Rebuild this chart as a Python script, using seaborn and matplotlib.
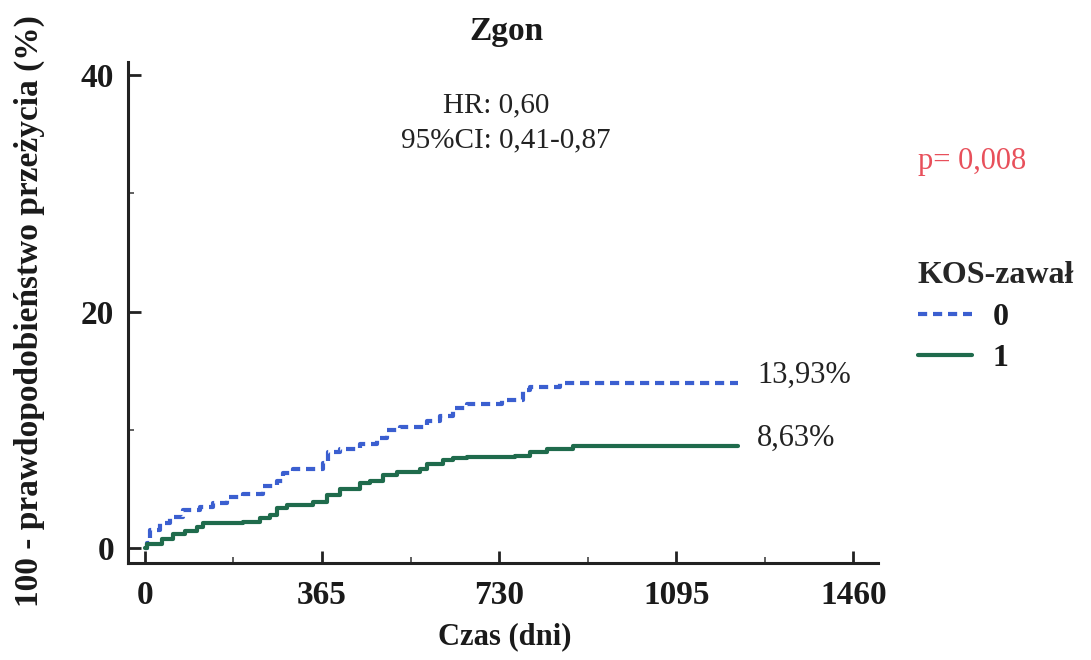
import numpy as np
import pandas as pd
import matplotlib
matplotlib.use("Agg")
import matplotlib.pyplot as plt
from matplotlib.ticker import MultipleLocator, FixedLocator
from matplotlib.lines import Line2D
import seaborn as sns

# Cumulative event curves (100 - survival %), step points per group
days_0 = [0, 5, 10, 31, 52, 78, 113, 140, 169, 202, 243, 272, 285, 305, 367, 377,
          402, 443, 478, 499, 526, 581, 608, 635, 663, 735, 779, 794, 856, 1223]
pct_0 = [0.0, 0.4, 1.5, 2.1, 2.6, 3.2, 3.5, 3.8, 4.3, 4.6, 5.2, 5.7, 6.3, 6.7, 7.2, 8.1,
         8.4, 8.8, 9.3, 10.0, 10.2, 10.7, 11.2, 11.8, 12.2, 12.5, 13.4, 13.6, 13.93, 13.93]

days_1 = [0, 4, 35, 58, 82, 107, 120, 202, 237, 258, 272, 293, 346, 375, 402, 443,
          464, 491, 520, 567, 581, 614, 635, 663, 762, 794, 829, 883, 1223]
pct_1 = [0.0, 0.3, 0.8, 1.2, 1.4, 1.8, 2.1, 2.2, 2.5, 2.8, 3.4, 3.6, 3.9, 4.5, 5.0, 5.5,
         5.7, 6.2, 6.4, 6.7, 7.1, 7.4, 7.6, 7.7, 7.8, 8.1, 8.4, 8.63, 8.63]

groups = ["0", "1"]
final_labels = ["13,93%", "8,63%"]
x_ticks = [0, 365, 730, 1095, 1460]
y_ticks = [0, 20, 40]

df = pd.concat([
    pd.DataFrame({"Czas": days_0, "pct": pct_0, "KOS-zawał": groups[0]}),
    pd.DataFrame({"Czas": days_1, "pct": pct_1, "KOS-zawał": groups[1]}),
], ignore_index=True)

sns.set_style("ticks")
plt.rcParams["font.family"] = ["Liberation Serif", "DejaVu Serif"]

colors = {"0": "#3b5fd0", "1": "#1f6b4c"}
dash_0 = (2.2, 1.4)

fig = plt.figure(figsize=(10.91, 6.6), dpi=100)
ax = fig.add_axes([0.1173, 0.147, 0.6875, 0.759])

sns.lineplot(data=df, x="Czas", y="pct", hue="KOS-zawał", style="KOS-zawał",
             palette=colors, dashes={"0": dash_0, "1": ""},
             estimator=None, sort=False, drawstyle="steps-post",
             linewidth=3.0, legend=False, ax=ax)

ax.set_xlim(-35, 1511)
ax.set_ylim(-1.27, 41.1)
ax.xaxis.set_major_locator(FixedLocator(x_ticks))
ax.xaxis.set_minor_locator(FixedLocator([182.5, 547.5, 912.5, 1277.5]))
ax.yaxis.set_major_locator(FixedLocator(y_ticks))
ax.yaxis.set_minor_locator(MultipleLocator(10))
ax.set_xticklabels([str(t) for t in x_ticks])
ax.set_yticklabels([str(t) for t in y_ticks])

ax.tick_params(which="major", direction="in", length=9, width=2.0, color="#222222",
               labelsize=24, pad=10)
ax.tick_params(which="minor", direction="in", length=4, width=1.2, color="#444444")
ax.tick_params(axis="x", pad=12)
for lab in ax.get_xticklabels() + ax.get_yticklabels():
    lab.set_fontweight("bold")
    lab.set_color("#1a1a1a")

sns.despine(ax=ax)
for side in ["left", "bottom"]:
    ax.spines[side].set_linewidth(2.2)
    ax.spines[side].set_color("#222222")

ax.set_xlabel("")
ax.set_ylabel("")
fig.text(0.463, 0.036, "Czas (dni)", ha="center", va="center",
         fontsize=22, fontweight="bold", color="#1a1a1a")
fig.text(0.027, 0.528, "100 - prawdopodobieństwo przeżycia (%)", ha="center", va="center",
         rotation=90, fontsize=24, fontweight="bold", color="#1a1a1a")
fig.text(0.464, 0.953, "Zgon", ha="center", va="center",
         fontsize=24, fontweight="bold", color="#1a1a1a")

fig.text(0.455, 0.841, "HR: 0,60", ha="center", va="center", fontsize=21, color="#222222")
fig.text(0.464, 0.788, "95%CI: 0,41-0,87", ha="center", va="center", fontsize=21,
         color="#222222")

# End-of-curve percentages, baseline sitting on each plateau
ax.text(days_0[-1] + 39, pct_0[-1], final_labels[0], ha="left", va="baseline",
        fontsize=22, color="#222222")
ax.text(days_1[-1] + 39, pct_1[-1], final_labels[1], ha="left", va="baseline",
        fontsize=22, color="#222222")

fig.text(0.841, 0.755, "p= 0,008", ha="left", va="center", fontsize=22, color="#e8505b")

handles = [Line2D([0], [0], color=colors["0"], lw=3.0, linestyle=(0, dash_0)),
           Line2D([0], [0], color=colors["1"], lw=3.0)]
leg = fig.legend(handles, groups, title="KOS-zawał", loc="upper left",
                 bbox_to_anchor=(0.841, 0.604), frameon=False,
                 handlelength=1.7, handletextpad=0.65, labelspacing=0.38,
                 borderpad=0.0, borderaxespad=0.0,
                 prop={"size": 23, "weight": "bold"},
                 title_fontproperties={"size": 23, "weight": "bold"})
leg._legend_box.align = "left"
for t in leg.get_texts():
    t.set_color("#1a1a1a")

fig.savefig("out.png", dpi=100, facecolor="white")
